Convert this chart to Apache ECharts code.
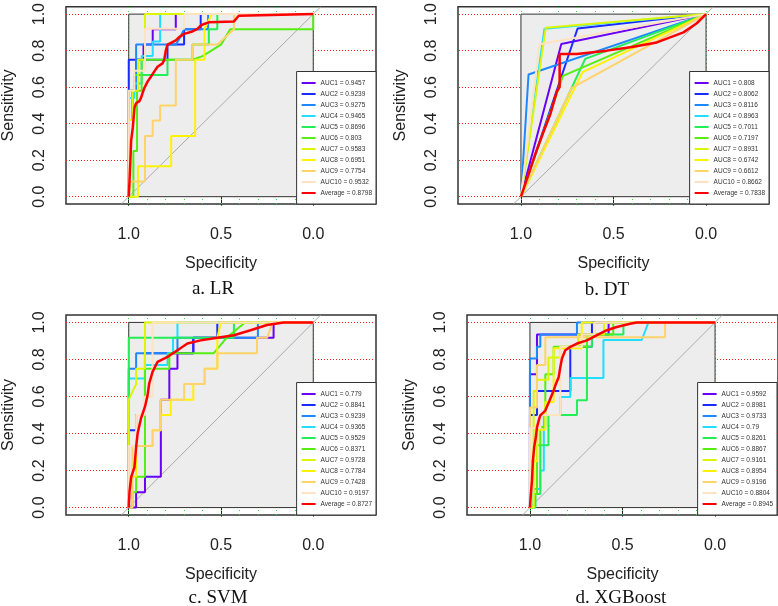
<!DOCTYPE html>
<html><head><meta charset="utf-8">
<script src="https://cdn.jsdelivr.net/npm/echarts@6/dist/echarts.min.js"></script>
<style>html,body{margin:0;padding:0;background:#fff}#c{width:778px;height:606px}</style>
</head><body><div id="c"></div>
<script>
// ---------------- DATA ----------------
const curveLabels = ['AUC1','AUC2','AUC3','AUC4','AUC5','AUC6','AUC7','AUC8','AUC9','AUC10','Average'];
const xTicks = [1.0, 0.5, 0.0];
const yTicks = [0.0, 0.2, 0.4, 0.6, 0.8, 1.0];
const hGrid = [0.0, 0.2, 0.4, 0.6, 0.8, 1.0];
const vGrid = [0.0, 0.1, 0.2, 0.3, 0.4, 0.5, 0.6, 0.7, 0.8, 0.9, 1.0];
const boxCorners = [1, 0, 0, 1];               // spec1, sens1, spec2, sens2
const diagonal = [[1.04, -0.04], [-0.04, 1.04]];
const panelTitles = ['a. LR', 'b. DT', 'c. SVM', 'd. XGBoost'];

const lrAUC  = [0.9457, 0.9239, 0.9275, 0.9465, 0.8696, 0.803, 0.9583, 0.6951, 0.7754, 0.9532, 0.8798];
const dtAUC  = [0.808, 0.8062, 0.8116, 0.8963, 0.7011, 0.7197, 0.8931, 0.6742, 0.6612, 0.8662, 0.7838];
const svmAUC = [0.779, 0.8841, 0.9239, 0.9365, 0.9529, 0.8371, 0.9728, 0.7784, 0.7428, 0.9197, 0.8727];
const xgbAUC = [0.9592, 0.8981, 0.9733, 0.79, 0.8261, 0.8867, 0.9161, 0.8954, 0.9196, 0.8804, 0.8945];

// curves: [specificity, sensitivity]
const lrCurves = [
 [[1,0],[1,0.42],[0.98,0.42],[0.98,0.58],[0.96,0.58],[0.96,0.75],[0.92,0.75],[0.92,0.833],[0.87,0.833],[0.87,0.917],[0.745,0.917],[0.745,1],[0,1]],
 [[1,0],[1,0.75],[0.79,0.75],[0.79,0.833],[0.70,0.833],[0.70,0.917],[0.61,0.917],[0.61,1],[0,1]],
 [[1,0],[1,0.58],[0.96,0.58],[0.96,0.833],[0.745,0.833],[0.72,0.875],[0.70,0.917],[0.57,0.917],[0.57,1],[0,1]],
 [[1,0],[1,0.54],[0.97,0.54],[0.97,0.62],[0.93,0.62],[0.93,0.77],[0.87,0.77],[0.87,0.85],[0.83,0.85],[0.83,1],[0,1]],
 [[1,0],[1,0.58],[0.97,0.58],[0.97,0.667],[0.79,0.667],[0.79,0.75],[0.655,0.75],[0.655,0.833],[0.566,0.833],[0.566,0.917],[0.52,0.917],[0.52,1],[0,1]],
 [[1,0],[0.975,0],[0.975,0.25],[0.955,0.25],[0.955,0.58],[0.93,0.58],[0.93,0.75],[0.655,0.75],[0.6,0.77],[0.5,0.833],[0.45,0.917],[0,0.917],[0,1]],
 [[1,0],[1,0.42],[0.98,0.42],[0.98,0.58],[0.95,0.58],[0.95,0.75],[0.912,0.75],[0.912,1],[0,1]],
 [[1,0],[0.95,0],[0.95,0.167],[0.77,0.167],[0.77,0.333],[0.64,0.333],[0.64,0.75],[0.59,0.75],[0.59,0.917],[0.55,1],[0,1]],
 [[1,0],[0.99,0],[0.99,0.083],[0.912,0.083],[0.912,0.333],[0.87,0.333],[0.87,0.417],[0.83,0.417],[0.83,0.5],[0.745,0.5],[0.745,0.75],[0.655,0.75],[0.655,0.833],[0.52,0.833],[0.43,0.917],[0.43,1],[0,1]],
 [[1,0],[1,0.58],[0.97,0.58],[0.97,0.69],[0.912,0.69],[0.912,0.92],[0.70,0.92],[0.70,1],[0,1]],
 [[1,0],[0.996,0.083],[0.991,0.2],[0.987,0.307],[0.978,0.378],[0.969,0.486],[0.96,0.513],[0.943,0.522],[0.934,0.54],[0.925,0.567],[0.916,0.594],[0.898,0.63],[0.88,0.657],[0.862,0.685],[0.844,0.712],[0.817,0.73],[0.808,0.748],[0.799,0.802],[0.79,0.833],[0.763,0.847],[0.745,0.856],[0.727,0.874],[0.70,0.892],[0.655,0.905],[0.628,0.919],[0.61,0.937],[0.592,0.946],[0.566,0.955],[0.431,0.959],[0.404,0.991],[0.395,1],[0,1]]
];
const dtCurves = [
 [[1,0],[0.782,0.836],[0,1]],
 [[1,0],[0.694,0.921],[0,1]],
 [[1,0],[0.959,0.669],[0,1]],
 [[1,0],[0.873,0.92],[0,1]],
 [[1,0],[0.653,0.755],[0,1]],
 [[1,0],[0.773,0.662],[0,1]],
 [[1,0],[0.866,0.925],[0,1]],
 [[1,0],[0.667,0.682],[0,1]],
 [[1,0],[0.727,0.595],[0,1]],
 [[1,0],[0.9,0.835],[0,1]],
 [[1,0],[0.96,0.12],[0.92,0.24],[0.88,0.35],[0.842,0.45],[0.806,0.576],[0.791,0.6],[0.791,0.782],[0.698,0.782],[0.536,0.8],[0.4,0.82],[0.266,0.845],[0.122,0.9],[0.05,0.95],[0,1]]
];
const svmCurves = [
 [[1,0],[0.96,0],[0.96,0.083],[0.912,0.083],[0.912,0.167],[0.826,0.167],[0.826,0.583],[0.78,0.583],[0.78,0.75],[0.736,0.75],[0.736,0.833],[0.65,0.833],[0.65,0.917],[0.215,0.917],[0.215,1],[0,1]],
 [[1,0],[1,0.417],[0.96,0.417],[0.96,0.5],[0.912,0.5],[0.912,0.833],[0.65,0.833],[0.65,0.917],[0.52,0.917],[0.52,1],[0,1]],
 [[1,0],[1,0.75],[0.96,0.75],[0.96,0.833],[0.736,0.833],[0.736,0.917],[0.3,0.917],[0.3,1],[0,1]],
 [[1,0],[1,0.697],[0.912,0.697],[0.912,0.77],[0.79,0.77],[0.79,0.833],[0.76,0.833],[0.76,0.917],[0.736,0.917],[0.736,1],[0,1]],
 [[1,0],[1,0.6],[1,0.917],[0.43,0.917],[0.43,1],[0,1]],
 [[1,0],[0.98,0],[0.98,0.083],[0.96,0.083],[0.96,0.167],[0.912,0.167],[0.912,0.75],[0.78,0.75],[0.78,0.833],[0.54,0.833],[0.47,0.917],[0.37,1],[0,1]],
 [[1,0],[1,0.583],[0.96,0.667],[0.96,0.75],[0.912,0.75],[0.912,1],[0,1]],
 [[1,0],[1,0.167],[0.96,0.167],[0.96,0.333],[0.871,0.333],[0.871,0.417],[0.826,0.417],[0.826,0.5],[0.772,0.5],[0.772,0.583],[0.65,0.583],[0.65,0.667],[0.589,0.667],[0.589,0.75],[0.52,0.75],[0.52,0.917],[0.5,1],[0,1]],
 [[1,0],[0.98,0],[0.98,0.333],[0.871,0.333],[0.871,0.417],[0.826,0.417],[0.826,0.583],[0.70,0.583],[0.70,0.667],[0.589,0.667],[0.589,0.75],[0.52,0.75],[0.52,0.833],[0.305,0.833],[0.305,0.917],[0.25,0.917],[0.22,1],[0,1]],
 [[1,0],[1,0.333],[0.96,0.333],[0.96,0.5],[0.912,0.5],[0.912,0.6],[0.871,0.6],[0.871,1],[0,1]],
 [[1,0],[0.996,0.083],[0.987,0.164],[0.969,0.218],[0.96,0.327],[0.952,0.4],[0.934,0.48],[0.912,0.545],[0.898,0.606],[0.889,0.67],[0.871,0.733],[0.844,0.787],[0.79,0.814],[0.736,0.85],[0.682,0.886],[0.61,0.903],[0.52,0.917],[0.43,0.931],[0.34,0.958],[0.251,0.986],[0.16,1],[0,1]]
];
const xgbCurves = [
 [[1,0],[1,0.72],[0.962,0.72],[0.962,0.935],[0.575,0.935],[0.575,1],[0,1]],
 [[1,0],[1,0.5],[0.962,0.5],[0.962,0.63],[0.782,0.63],[0.782,0.868],[0.665,0.868],[0.665,1],[0,1]],
 [[1,0],[1,0.805],[0.962,0.805],[0.962,0.868],[0.944,0.868],[0.944,0.935],[0.746,0.935],[0.746,1],[0,1]],
 [[1,0],[0.98,0],[0.98,0.1],[0.944,0.1],[0.944,0.2],[0.925,0.2],[0.925,0.5],[0.836,0.5],[0.836,0.597],[0.782,0.597],[0.782,0.7],[0.603,0.7],[0.603,0.905],[0.396,0.905],[0.36,1],[0,1]],
 [[1,0],[0.97,0],[0.97,0.074],[0.944,0.074],[0.944,0.336],[0.9,0.336],[0.9,0.5],[0.746,0.5],[0.746,0.58],[0.692,0.58],[0.692,0.868],[0.665,0.868],[0.665,0.935],[0.495,0.935],[0.495,1],[0,1]],
 [[1,0],[0.98,0],[0.98,0.074],[0.962,0.074],[0.962,0.336],[0.944,0.336],[0.944,0.435],[0.917,0.435],[0.917,0.72],[0.872,0.72],[0.872,0.868],[0.692,0.868],[0.692,0.935],[0.55,0.935],[0.55,1],[0,1]],
 [[1,0],[1,0.25],[0.98,0.25],[0.98,0.63],[0.962,0.63],[0.962,0.69],[0.9,0.69],[0.9,0.81],[0.836,0.81],[0.836,0.868],[0.74,0.868],[0.74,0.935],[0.6,0.935],[0.6,1],[0,1]],
 [[1,0],[0.98,0],[0.98,0.25],[0.96,0.25],[0.96,0.42],[0.917,0.42],[0.917,0.57],[0.872,0.57],[0.872,0.86],[0.72,0.86],[0.72,1],[0,1]],
 [[1,0],[1,0.54],[0.962,0.54],[0.962,0.77],[0.917,0.77],[0.917,0.92],[0.27,0.92],[0.27,1],[0,1]],
 [[1,0],[1,0.43],[0.944,0.43],[0.944,0.5],[0.836,0.5],[0.836,0.868],[0.72,0.868],[0.72,0.935],[0.65,0.935],[0.65,1],[0,1]],
 [[1,0],[0.995,0.074],[0.989,0.146],[0.984,0.254],[0.977,0.327],[0.968,0.381],[0.962,0.433],[0.953,0.469],[0.944,0.498],[0.917,0.524],[0.894,0.578],[0.872,0.632],[0.863,0.659],[0.845,0.704],[0.836,0.758],[0.827,0.805],[0.809,0.85],[0.782,0.868],[0.746,0.886],[0.692,0.903],[0.638,0.931],[0.584,0.958],[0.531,0.975],[0.459,0.993],[0.423,1],[0,1]]
];

// ---------------- STYLE / LAYOUT ----------------
const colors = ['#6A00F5','#1A2BFF','#1E88FF','#22DDFF','#22EE55','#55EE10','#DDF500','#FFF200','#FFD36A','#FFE2C0','#FF0000'];
const panels = [
  {auc: lrAUC,  curves: lrCurves,  grid: {left: 65,  top: 4},   legend: {right: 402, bottom: 402}, title: [213, 289]},
  {auc: dtAUC,  curves: dtCurves,  grid: {left: 458, top: 4},   legend: {right: 9,   bottom: 402}, title: [607, 290]},
  {auc: svmAUC, curves: svmCurves, grid: {left: 65,  top: 315}, legend: {right: 402, bottom: 91},  title: [218, 598]},
  {auc: xgbAUC, curves: xgbCurves, grid: {left: 467, top: 315}, legend: {right: 1,   bottom: 91},  title: [621, 598]}
];
const FONT = 'Liberation Sans';

const option = {animation: false, grid: [], xAxis: [], yAxis: [], legend: [], series: [], graphic: []};

panels.forEach((p, i) => {
  option.grid.push({left: p.grid.left, top: p.grid.top, width: 311, height: 200,
    show: true, borderColor: '#333', borderWidth: 1.5, backgroundColor: 'transparent'});
  option.xAxis.push({type: 'value', gridIndex: i, inverse: true, min: -0.34, max: 1.34,
    axisLine: {show: false}, splitLine: {show: false},
    axisTick: {show: true, customValues: xTicks, length: 9, lineStyle: {color: '#222', width: 1}},
    axisLabel: {customValues: xTicks, formatter: v => Number(v).toFixed(1), margin: 23,
      fontSize: 16, color: '#222', fontFamily: FONT},
    name: 'Specificity', nameLocation: 'middle', nameGap: 52,
    nameTextStyle: {fontSize: 16, color: '#222', fontFamily: FONT}});
  option.yAxis.push({type: 'value', gridIndex: i, min: -0.04, max: 1.04,
    axisLine: {show: false}, splitLine: {show: false},
    axisTick: {show: true, customValues: yTicks, length: 9, lineStyle: {color: '#222', width: 1}},
    axisLabel: {customValues: yTicks, formatter: v => Number(v).toFixed(1), margin: 18, rotate: 90,
      fontSize: 16, color: '#222', fontFamily: FONT},
    name: 'Sensitivity', nameLocation: 'middle', nameGap: 49, nameRotate: 90,
    nameTextStyle: {fontSize: 16, color: '#222', fontFamily: FONT}});

  // gray max-AUC box
  option.series.push({type: 'custom', xAxisIndex: i, yAxisIndex: i, z: 2, silent: true, clip: false,
    data: [boxCorners],
    renderItem: (params, api) => {
      const a = api.coord([api.value(0), api.value(1)]);
      const b = api.coord([api.value(2), api.value(3)]);
      return {type: 'rect', shape: {x: Math.min(a[0], b[0]), y: Math.min(a[1], b[1]),
        width: Math.abs(b[0] - a[0]), height: Math.abs(b[1] - a[1])},
        style: {fill: '#EDEDED', stroke: '#333', lineWidth: 1}};
    }});
  // diagonal + dotted grid lines
  option.series.push({type: 'line', xAxisIndex: i, yAxisIndex: i, z: 3, silent: true,
    data: diagonal, symbol: 'none', lineStyle: {color: '#AAAAAA', width: 1},
    markLine: {silent: true, z: 1, symbol: 'none', label: {show: false}, animation: false,
      emphasis: {disabled: true},
      data: [
        ...hGrid.map(v => ({yAxis: v, lineStyle: {color: '#FF2020', width: 1, type: [1, 2]}})),
        ...vGrid.map(v => ({xAxis: v, lineStyle: {color: '#33DD33', width: 1, type: [1, 3]}}))
      ]}});

  const names = [];
  p.curves.forEach((c, k) => {
    const nm = curveLabels[k] + ' = ' + p.auc[k];
    names.push(nm);
    const isAvg = k === p.curves.length - 1;
    option.series.push({type: 'line', name: nm, xAxisIndex: i, yAxisIndex: i, z: 4,
      data: c, symbol: 'none', color: colors[k],
      lineStyle: {color: colors[k], width: isAvg ? 2.5 : 2}});
  });

  option.legend.push({data: names, orient: 'vertical', right: p.legend.right, bottom: p.legend.bottom,
    icon: 'rect', itemWidth: 14, itemHeight: 2, itemGap: 0,
    padding: [6, 4, 5.5, 5], backgroundColor: '#fff', borderColor: '#333', borderWidth: 1,
    borderRadius: 0, selectedMode: false,
    textStyle: {fontSize: 6.5, lineHeight: 11, color: '#333', fontFamily: FONT}});

  option.graphic.push({type: 'text', x: p.title[0], y: p.title[1], silent: true,
    style: {text: panelTitles[i], fontSize: 19, fontFamily: 'Liberation Serif', fill: '#111',
      align: 'center', verticalAlign: 'middle'}});
});

const chart = echarts.init(document.getElementById('c'), null, {renderer: 'canvas'});
chart.setOption(option);
</script>
</body></html>
